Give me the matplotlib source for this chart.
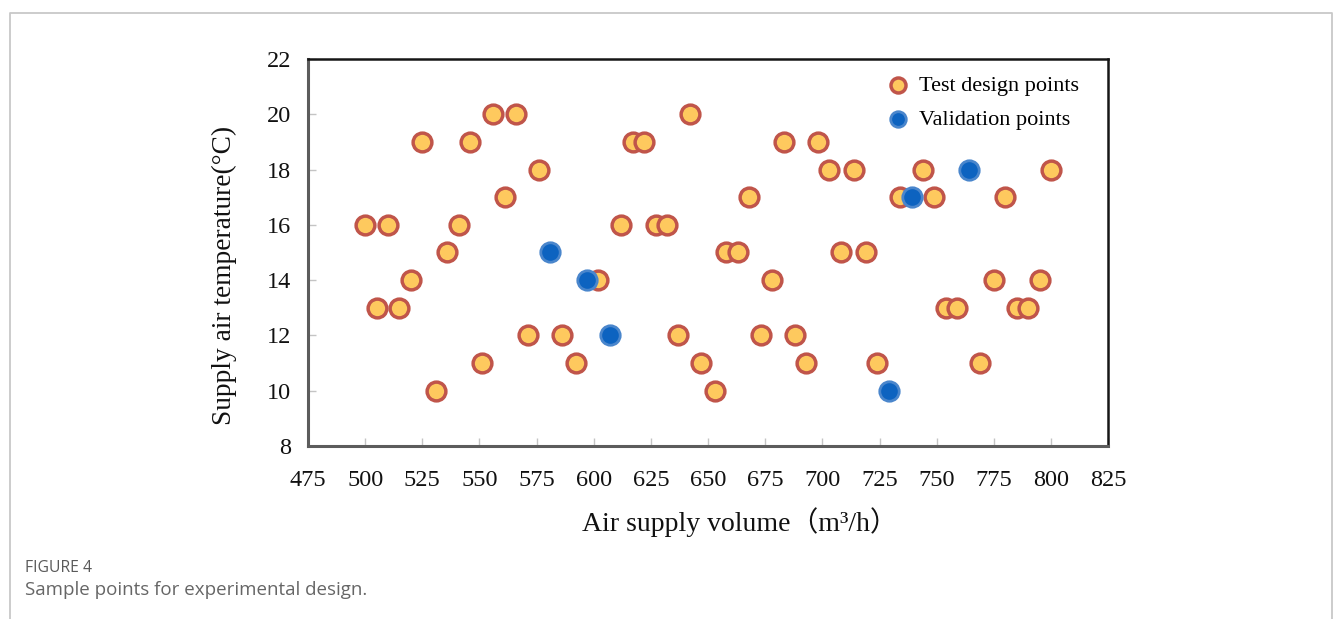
"""
Sample points for experimental design: air supply volume vs supply air temperature
"""

import matplotlib
matplotlib.use('Agg')
import matplotlib.pyplot as plt
from matplotlib.lines import Line2D


# Test design points (air supply volume [m3/h], supply air temperature [C])
design_volume = [500, 505, 510, 515, 520, 525, 531, 536, 541, 546,
                 551, 556, 561, 566, 571, 576, 586, 592, 602, 612,
                 617, 622, 627, 632, 637, 642, 647, 653, 658, 663,
                 668, 673, 678, 683, 688, 693, 698, 703, 708, 714,
                 719, 724, 734, 744, 749, 754, 759, 769, 775, 780,
                 785, 790, 795, 800]
design_temp = [16, 13, 16, 13, 14, 19, 10, 15, 16, 19,
               11, 20, 17, 20, 12, 18, 12, 11, 14, 16,
               19, 19, 16, 16, 12, 20, 11, 10, 15, 15,
               17, 12, 14, 19, 12, 11, 19, 18, 15, 18,
               15, 11, 17, 18, 17, 13, 13, 11, 14, 17,
               13, 13, 14, 18]

# Validation points
valid_volume = [581, 597, 607, 729, 739, 764]
valid_temp = [15, 14, 12, 10, 17, 18]

x_ticks = [475, 500, 525, 550, 575, 600, 625, 650, 675, 700, 725, 750, 775, 800, 825]
y_ticks = [8, 10, 12, 14, 16, 18, 20, 22]

SERIF = 'Liberation Serif'
ORANGE_FILL = '#fec95e'
ORANGE_EDGE = '#c0554a'
BLUE_FILL = '#0d63c0'
BLUE_EDGE = '#4a86cc'


fig = plt.figure(figsize=(13.33, 6.19), dpi=100)
ax = fig.add_axes([0.2311, 0.2795, 0.6002, 0.6252])

ms = 13.5
ax.scatter(design_volume, design_temp, s=ms**2, c=ORANGE_FILL, edgecolors=ORANGE_EDGE,
           linewidths=2.5, zorder=3, label='Test design points')
ax.scatter(valid_volume, valid_temp, s=(ms + 0.5)**2, c=BLUE_FILL, edgecolors=BLUE_EDGE,
           linewidths=2.0, zorder=4, label='Validation points')

ax.set_xlim(475, 825)
ax.set_ylim(8, 22)
ax.set_xticks(x_ticks)
ax.set_yticks(y_ticks)
ax.tick_params(direction='in', length=6, width=1.0, color='#c4c4c4',
               labelsize=17.5, labelcolor='#111111')
ax.tick_params(axis='x', pad=17)
ax.tick_params(axis='y', pad=12)
for lab in ax.get_xticklabels() + ax.get_yticklabels():
    lab.set_fontfamily(SERIF)

for side in ['left', 'bottom']:
    ax.spines[side].set_color('#5c5c5c')
    ax.spines[side].set_linewidth(2.2)
for side in ['top', 'right']:
    ax.spines[side].set_color('#161616')
    ax.spines[side].set_linewidth(1.8)

ax.set_xlabel('Air supply volume（m³/h）', fontsize=20,
              family=[SERIF, 'Noto Sans CJK SC'], color='#111111')
ax.xaxis.label.set_va('center')
ax.xaxis.set_label_coords(0.54, -0.196)
ax.set_ylabel('Supply air temperature(°C)', fontsize=19.7, family=SERIF, color='#111111')
ax.yaxis.label.set_va('center')
ax.yaxis.set_label_coords(-0.104, 0.44)

leg = ax.legend(loc='upper left', bbox_to_anchor=(0.723, 0.958), frameon=False,
                prop={'family': SERIF, 'size': 16}, markerscale=0.8,
                handlelength=1.0, handletextpad=0.45, labelspacing=0.62,
                borderpad=0, borderaxespad=0)

# Panel outline around the figure and caption
fig.add_artist(Line2D([9.5 / 1333, 9.5 / 1333, 1331.5 / 1333, 1331.5 / 1333],
                      [-0.01, 1 - 12.5 / 619, 1 - 12.5 / 619, -0.01],
                      transform=fig.transFigure, color='#c8c8c8', lw=1.3))
fig.text(25 / 1333, 1 - 568 / 619, 'FIGURE 4', fontsize=11.3, family='Open Sans',
         color='#5a5a5a', va='center', ha='left')
fig.text(25 / 1333, 1 - 590 / 619, 'Sample points for experimental design.', fontsize=13.5,
         family='Open Sans', color='#666666', va='center', ha='left')

fig.savefig('out.png', dpi=100)
